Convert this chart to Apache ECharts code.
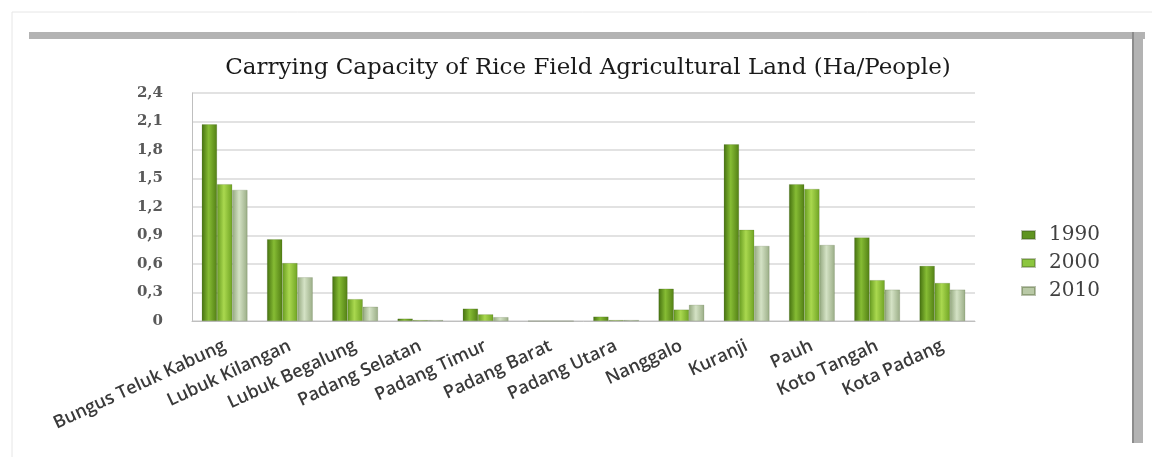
<!DOCTYPE html>
<html><head><meta charset="utf-8">
<script src="https://cdn.jsdelivr.net/npm/echarts@6/dist/echarts.min.js"></script>
<style>html,body{margin:0;padding:0;background:#fff}#c{width:1152px;height:457px}</style>
</head><body><div id="c"></div>
<script>
const categories = ["Bungus Teluk Kabung","Lubuk Kilangan","Lubuk Begalung","Padang Selatan","Padang Timur","Padang Barat","Padang Utara","Nanggalo","Kuranji","Pauh","Koto Tangah","Kota Padang"];
const seriesNames = ["1990","2000","2010"];
const v1990 = [2.07,0.86,0.47,0.025,0.13,0,0.046,0.34,1.86,1.44,0.88,0.58];
const v2000 = [1.44,0.61,0.23,0.01,0.07,0,0.01,0.12,0.96,1.39,0.43,0.40];
const v2010 = [1.38,0.46,0.15,0.01,0.04,0,0.01,0.17,0.79,0.80,0.33,0.33];
const yTicks = [0,0.3,0.6,0.9,1.2,1.5,1.8,2.1,2.4];

function grad(a,b,c){
  return {type:'linear',x:0,y:0,x2:1,y2:0,colorStops:[{offset:0,color:a},{offset:0.45,color:b},{offset:1,color:c}]};
}
const styles = [
  grad('#44700f','#86bc34','#527f14'),
  grad('#659a1f','#aad84f','#6fa323'),
  grad('#93a77e','#d4e2c5','#9aad86')
];
const legendColors = ['#5f9420','#8cc63f','#b9c9a6'];
const data = [v1990,v2000,v2010];

const chart = echarts.init(document.getElementById('c'));
chart.setOption({
  animation:false,
  backgroundColor:'#fff',
  title:{text:'Carrying Capacity of Rice Field Agricultural Land (Ha/People)',left:583,top:52,textAlign:'center',
    textStyle:{fontFamily:'DejaVu Serif',fontSize:23,fontWeight:'normal',color:'#1a1a1a'}},
  legend:{orient:'vertical',left:1016,top:220,itemGap:8,itemWidth:13,itemHeight:8,icon:'rect',
    data:seriesNames.map((n,i)=>({name:n,itemStyle:{color:legendColors[i]}})),
    textStyle:{fontFamily:'DejaVu Serif',fontSize:20,color:'#404040',padding:[0,0,0,9]}},
  grid:{left:192,right:177,top:93,bottom:136,containLabel:false},
  xAxis:{type:'category',data:categories,
    axisLine:{lineStyle:{color:'#bfbfbf'}},axisTick:{show:false},
    axisLabel:{interval:0,rotate:25,fontFamily:'Open Sans',fontWeight:600,fontSize:18,color:'#3a3a3a',margin:24}},
  yAxis:{type:'value',min:0,max:2.4,interval:0.3,
    axisLine:{show:true,lineStyle:{color:'#bfbfbf'}},axisTick:{show:false},
    splitLine:{lineStyle:{color:'#d9d9d9',width:1.5}},
    axisLabel:{margin:29,fontFamily:'DejaVu Serif',fontWeight:'bold',fontSize:15,color:'#595959',
      formatter:v=>{const t=yTicks.find(x=>Math.abs(x-v)<1e-6);return t===0?'0':String(t.toFixed(1)).replace('.',',');}}},
  series:seriesNames.map((n,i)=>({name:n,type:'bar',data:data[i],barGap:'0%',barCategoryGap:'30%',
    itemStyle:{color:styles[i],borderColor:'rgba(60,80,30,0.35)',borderWidth:0.5}})),
  graphic:[
    {type:'rect',shape:{x:12,y:12,width:1200,height:500},style:{fill:'none',stroke:'#e6e6e6',lineWidth:1},silent:true},
    {type:'rect',shape:{x:29,y:32,width:1116,height:7},style:{fill:'#b3b3b3'},silent:true},
    {type:'rect',shape:{x:1132,y:32,width:11,height:411},style:{fill:'#b3b3b3'},silent:true},
    {type:'rect',shape:{x:1132,y:32,width:2,height:411},style:{fill:'#8c8c8c'},silent:true}
  ]
});
</script></body></html>
